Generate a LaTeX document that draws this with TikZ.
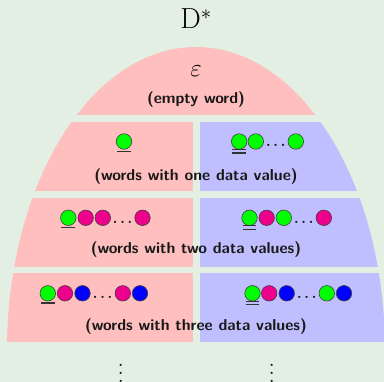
\documentclass[tikz,border=0pt]{standalone}
\definecolor{bg}{RGB}{227,239,227}
\definecolor{pinkfill}{RGB}{255,191,191}
\definecolor{bluefill}{RGB}{191,191,255}
\definecolor{dgreen}{RGB}{0,255,0}
\definecolor{dmag}{RGB}{236,0,140}
\definecolor{dblue}{RGB}{0,0,255}
\begin{document}
\begin{tikzpicture}[x=1pt,y=-1pt,
  dv/.style={circle, draw=black!75, line width=0.6pt, minimum size=15.5pt, inner sep=0pt, fill=#1},
  lbl/.style={font=\sffamily\bfseries\fontsize{15.8}{18}\selectfont, inner sep=0pt, text=black!90},
  dotsl/.style={font=\boldmath\fontsize{15.5}{18}\selectfont, inner sep=0pt, anchor=base, text=black!90},
  uline/.style={draw=black!80, line width=1.1pt},
  vd/.style={scale=2.1, inner sep=0pt, anchor=north, text=black!90}]
\fill[bg] (0,0) rectangle (384,382);
\useasboundingbox (0,0) rectangle (384,382);

% the language, cut into bands of words by number of data values
\begin{scope}
  \clip (0,0) rectangle (384,382);
  \clip (196,350) ellipse [x radius=189, y radius=303];
  \fill[pinkfill] (0,0) rectangle (384,115.5);
  \fill[pinkfill] (0,121.7) rectangle (193.3,191);
  \fill[bluefill] (200,121.7) rectangle (390,191);
  \fill[pinkfill] (0,197.6) rectangle (193.3,267);
  \fill[bluefill] (200,197.6) rectangle (390,267);
  \fill[pinkfill] (0,272.8) rectangle (193.3,342);
  \fill[bluefill] (200,272.8) rectangle (390,342);
\end{scope}

\node[font=\fontsize{29}{34}\selectfont, inner sep=0pt, anchor=base] (title) at (196,28.3) {D$^*$};
\node[font=\fontsize{28}{34}\selectfont, inner sep=0pt, anchor=base] (eps) at (196,77) {$\varepsilon$};
\node[lbl] (empty) at (196,100) {(empty word)};

% one data value
\node[dv=dgreen] (a1) at (124,141.5) {};
\draw[uline] ([shift={(-1.2,4)}]a1.south west) -- ([shift={(1.2,4)}]a1.south east);
\foreach \x/\c [count=\i] in {239.2/dgreen,255.8/dgreen,295.8/dgreen}
  \node[dv=\c] (b\i) at (\x,141.5) {};
\node[dotsl] (bdots) at (275.8,146.9) {$\ldots$};
\draw[uline] ([shift={(-1.2,2.4)}]b1.south west) -- ([shift={(1.2,2.4)}]b1.south east);
\draw[uline] ([shift={(-1.2,5.8)}]b1.south west) -- ([shift={(1.2,5.8)}]b1.south east);
\node[lbl] (one) at (196,176.5) {(words with one data value)};

% two data values
\foreach \x/\c [count=\i] in {68.3/dgreen,85.7/dmag,102.8/dmag,142.5/dmag}
  \node[dv=\c] (c\i) at (\x,217.8) {};
\node[dotsl] (cdots) at (122.6,223.2) {$\ldots$};
\draw[uline] ([shift={(-1.2,4)}]c1.south west) -- ([shift={(1.2,4)}]c1.south east);
\foreach \x/\c [count=\i] in {249.5/dgreen,266.7/dmag,283.8/dgreen,323.8/dmag}
  \node[dv=\c] (d\i) at (\x,217.8) {};
\node[dotsl] (ddots) at (303.8,223.2) {$\ldots$};
\draw[uline] ([shift={(-1.2,2.4)}]d1.south west) -- ([shift={(1.2,2.4)}]d1.south east);
\draw[uline] ([shift={(-1.2,5.8)}]d1.south west) -- ([shift={(1.2,5.8)}]d1.south east);
\node[lbl] (two) at (196,250) {(words with two data values)};

% three data values
\foreach \x/\c [count=\i] in {47.8/dgreen,65/dmag,82.5/dblue,122.8/dmag,140/dblue}
  \node[dv=\c] (e\i) at (\x,293.3) {};
\node[dotsl] (edots) at (102.6,298.7) {$\ldots$};
\draw[uline] ([shift={(-1.2,4)}]e1.south west) -- ([shift={(1.2,4)}]e1.south east);
\foreach \x/\c [count=\i] in {252.5/dgreen,269.2/dmag,286.7/dblue,326.8/dgreen,344/dblue}
  \node[dv=\c] (f\i) at (\x,293.3) {};
\node[dotsl] (fdots) at (306.8,298.7) {$\ldots$};
\draw[uline] ([shift={(-1.2,2.4)}]f1.south west) -- ([shift={(1.2,2.4)}]f1.south east);
\draw[uline] ([shift={(-1.2,5.8)}]f1.south west) -- ([shift={(1.2,5.8)}]f1.south east);
\node[lbl] (three) at (196,326.5) {(words with three data values)};

% more bands below
\node[vd] (vl) at (120.7,350.8) {$\vdots$};
\node[vd] (vr) at (271.7,350.8) {$\vdots$};
\end{tikzpicture}
\end{document}
